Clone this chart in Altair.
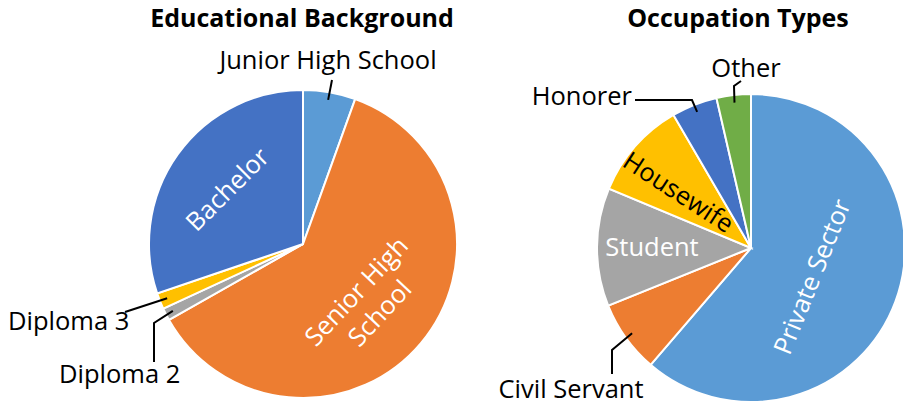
import altair as alt
import numpy as np
import pandas as pd

# ---------------- data ----------------
edu_labels = ["Junior High School", "Senior High School", "Diploma 2", "Diploma 3", "Bachelor"]
edu_values = [5.5, 61.3, 1.3, 1.7, 30.2]

occ_labels = ["Private Sector", "Civil Servant", "Student", "Housewife", "Honorer", "Other"]
occ_values = [61.3, 7.6, 12.4, 10.3, 4.8, 3.6]

titles = ["Educational Background", "Occupation Types"]

# ---------------- style / layout ----------------
palette = ["#5B9BD5", "#ED7D31", "#A5A5A5", "#FFC000", "#4472C4", "#70AD47"]
FONT = "Open Sans"
R = 154
EDU_C = (303, 244)
OCC_C = (751, 248)

xs = alt.Scale(domain=[8, 903], nice=False, zero=False)
ys = alt.Scale(domain=[8, 406], nice=False, zero=False, reverse=True)
ts = alt.Scale(domain=[0, 100])


def slice_table(labels, values):
    v = np.array(values, dtype=float)
    pct = v / v.sum() * 100
    end = np.cumsum(pct)
    start = end - pct
    return pd.DataFrame({
        "label": labels,
        "start": start,
        "end": end,
        "mid": (start + end) / 2 * 3.6,
        "color": palette[: len(labels)],
    })


edu_df = slice_table(edu_labels, edu_values)
occ_df = slice_table(occ_labels, occ_values)


def edge_point(df, center, label, k=0.95):
    deg = float(df.loc[df.label == label, "mid"].iloc[0])
    a = np.deg2rad(deg)
    return center[0] + k * R * np.sin(a), center[1] - k * R * np.cos(a)


# leader lines: label-side points (layout), slice end derived from data
leader_spec = [
    (edu_df, EDU_C, "Junior High School", [(332, 80)]),
    (edu_df, EDU_C, "Diploma 3", [(125, 312)]),
    (edu_df, EDU_C, "Diploma 2", [(154, 362), (154, 323)]),
    (occ_df, OCC_C, "Other", [(741, 81), (734, 86)]),
    (occ_df, OCC_C, "Honorer", [(635, 100), (692, 100)]),
    (occ_df, OCC_C, "Civil Servant", [(612, 374), (612, 350)]),
]
rows = []
for df, c, lab, pts in leader_spec:
    allpts = list(pts) + [edge_point(df, c, lab)]
    for i, (px, py) in enumerate(allpts):
        rows.append({"label": lab, "seq": i, "x": px, "y": py})
leader_df = pd.DataFrame(rows)

# labels: text, x, y, align, baseline, angle, fill
label_rows = [
    ("Junior High School", 328, 69, "center", "alphabetic", 0, "black"),
    ("Diploma 3", 8, 330, "left", "alphabetic", 0, "black"),
    ("Diploma 2", 59, 383, "left", "alphabetic", 0, "black"),
    ("Other", 746, 77, "center", "alphabetic", 0, "black"),
    ("Honorer", 632, 105, "right", "alphabetic", 0, "black"),
    ("Civil Servant", 571, 398, "center", "alphabetic", 0, "black"),
    ("Bachelor", 228, 190, "center", "middle", 315, "white"),
    ("Senior High\nSchool", 357, 292, "center", "middle", 313, "white"),
    ("Private Sector", 813, 277, "center", "middle", 292, "white"),
    ("Housewife", 678, 193, "center", "middle", 33, "black"),
    ("Student", 652, 248, "center", "middle", 0, "white"),
]
labels_df = pd.DataFrame(label_rows, columns=["text", "x", "y", "align", "baseline", "angle", "fill"])

title_df = pd.DataFrame({"text": titles, "x": [302, 738], "y": [27, 27]})


def pie(df, center):
    return alt.Chart(df).mark_arc(radius=R, stroke="white", strokeWidth=2).encode(
        theta=alt.Theta("start:Q", scale=ts),
        theta2="end:Q",
        color=alt.Color("color:N", scale=None),
        x=alt.XDatum(center[0], type="quantitative", scale=xs, axis=None),
        y=alt.YDatum(center[1], type="quantitative", scale=ys, axis=None),
    )


layers = [pie(edu_df, EDU_C), pie(occ_df, OCC_C)]

layers.append(
    alt.Chart(leader_df).mark_line(color="black", strokeWidth=2).encode(
        x=alt.X("x:Q", scale=xs, axis=None),
        y=alt.Y("y:Q", scale=ys, axis=None),
        detail="label:N",
        order="seq:Q",
    )
)

for (al, bl), sub in labels_df.groupby(["align", "baseline"]):
    layers.append(
        alt.Chart(sub).mark_text(
            align=al, baseline=bl, font=FONT, fontSize=25.5, lineBreak="\n", lineHeight=32
        ).encode(
            x=alt.X("x:Q", scale=xs, axis=None),
            y=alt.Y("y:Q", scale=ys, axis=None),
            text="text:N",
            angle=alt.Angle("angle:Q", scale=None),
            color=alt.Color("fill:N", scale=None),
        )
    )

layers.append(
    alt.Chart(title_df).mark_text(
        align="center", baseline="alphabetic", font=FONT, fontSize=25, fontWeight="bold", color="black"
    ).encode(
        x=alt.X("x:Q", scale=xs, axis=None),
        y=alt.Y("y:Q", scale=ys, axis=None),
        text="text:N",
    )
)

chart = alt.layer(*layers).properties(
    width=895,
    height=398,
    padding=0,
    autosize=alt.AutoSizeParams(type="none"),
    background="white",
).configure_view(stroke=None)

chart.save("out.html", embed_options={"renderer": "svg", "actions": False})
